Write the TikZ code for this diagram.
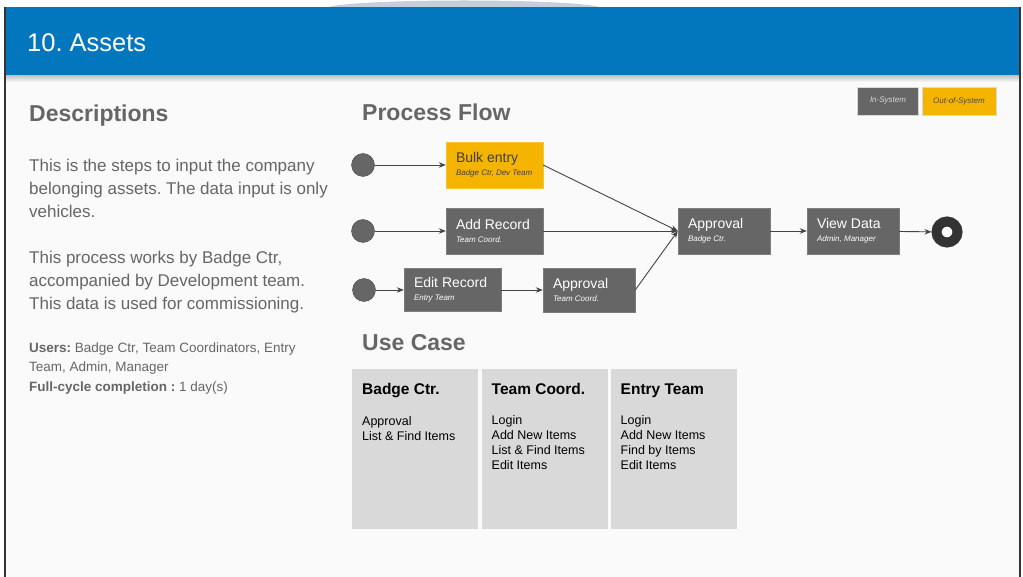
\documentclass[tikz,border=0pt]{standalone}
\usepackage{fontspec}
\setmainfont{Liberation Sans}
\usetikzlibrary{shapes}
\usetikzlibrary{arrows,arrows.meta}
\definecolor{hdrblue}{HTML}{0277BD}
\definecolor{stepgrey}{HTML}{666666}
\definecolor{outyellow}{HTML}{F4B400}
\definecolor{ucgrey}{HTML}{D9D9D9}
\definecolor{slidebg}{HTML}{FAFAFA}
\definecolor{linegrey}{HTML}{444444}
\definecolor{arcgrey}{HTML}{C3D0DC}
\newcommand{\who}[1]{\\[-2pt]{\fontsize{8}{9}\selectfont\itshape\spaceskip=0pt\xspaceskip=0pt #1}}
\tikzset{
	stepbox/.style = {rectangle, align=flush left, inner xsep=10pt, inner ysep=0pt,
		text width=77pt, minimum height=46pt, text=white, fill=stepgrey,
		draw=stepgrey!85!white, font=\fontsize{14}{15}\selectfont},% in-system step
	outbox/.style = {stepbox, fill=outyellow, draw=outyellow!80!white,
		text=black!75},% out-of-system step
	startpt/.style = {circle, inner sep=0pt, minimum size=23pt, fill=stepgrey,
		draw=stepgrey!70!black},% start
	endpt/.style = {circle, inner sep=0pt, minimum size=21pt, fill=white,
		draw=black!80, line width=10pt, outer sep=5pt},% end
	flow/.style = {-{Stealth[length=7pt, width=5.5pt]}, draw=linegrey, line width=0.9pt},
	heading/.style = {anchor=base west, inner sep=0pt, text=stepgrey,
		font=\fontsize{23}{26}\selectfont\bfseries},
	desc/.style = {anchor=base west, inner sep=0pt, align=flush left, text=stepgrey},
	ucbox/.style = {rectangle, anchor=north west, fill=ucgrey, inner sep=0pt,
		minimum width=126pt, minimum height=160pt},
	uctext/.style = {anchor=base west, inner sep=0pt, align=flush left,
		font=\fontsize{12.5}{14.7}\selectfont},
	legend/.style = {rectangle, inner sep=0pt, minimum height=28pt,
		font=\fontsize{8}{9}\selectfont\itshape, draw=white!85!black}
}
\begin{document}
\frenchspacing
\begin{tikzpicture}[x=1pt,y=-1pt]
\useasboundingbox (0,0) rectangle (1023,577);
\fill[white] (0,0) rectangle (1023,577);
% slide
\fill[slidebg] (5,7) rectangle (1020,577);
\fill[arcgrey] (326,8) .. controls (345,-2) and (583,-2) .. (602,8) -- cycle;
\shade[top color=black!25, bottom color=slidebg] (5,75) rectangle (1020,82);
\fill[hdrblue] (5,7) rectangle (1020,75);
\draw[black!80, line width=1.5pt] (5,7) -- (5,577) (1020,7) -- (1020,577);
\node[anchor=base west, inner sep=0pt, text=white,
	font=\fontsize{25.5}{28}\selectfont] (title) at (27,52) {10. Assets};

% descriptions (base = last line)
\node[heading] (deschead) at (29,121.5) {Descriptions};
\node[desc, font=\fontsize{17}{23}\selectfont] (desc1) at (29,218)
	{This is the steps to input the company\\belonging assets. The data input is only\\vehicles.};
\node[desc, font=\fontsize{17}{23}\selectfont] (desc2) at (29,310)
	{This process works by Badge Ctr,\\accompanied by Development team.\\This data is used for commissioning.};
\node[desc, font=\fontsize{13.5}{19.5}\selectfont] (users) at (29,391)
	{\textbf{Users:} Badge Ctr, Team Coordinators, Entry\\Team, Admin, Manager\\\textbf{Full-cycle completion :} 1 day(s)};

% legend
\node[legend, fill=stepgrey, text=white!85!black, minimum width=61pt] (insys) at (888,101) {In-System};
\node[legend, fill=outyellow, text=black!70, minimum width=74pt] (outsys) at (959,101) {Out-of-System};

% process flow
\node[heading] (flowhead) at (362,121) {Process Flow};
\node[startpt] (s1) at (363,165) {};
\node[startpt] (s2) at (363,231) {};
\node[startpt] (s3) at (364,290) {};
\node[outbox] (bulk) at (494.5,165) {Bulk entry\who{Badge Ctr, Dev Team}};
\node[stepbox] (addrec) at (494.5,231) {Add Record\who{Team Coord.}};
\node[stepbox, minimum height=43pt] (editrec) at (452.5,290) {Edit Record\who{Entry Team}};
\node[stepbox, text width=72pt, minimum height=44pt] (apprtc) at (589,290) {Approval\who{Team Coord.}};
\node[stepbox, text width=72pt] (apprbc) at (724,231) {Approval\who{Badge Ctr.}};
\node[stepbox, text width=72pt] (view) at (853,231) {View Data\who{Admin, Manager}};
\node[endpt] (fin) at (947,232) {};
\draw[flow] (s1) -- (bulk);
\draw[flow] (s2) -- (addrec);
\draw[flow] (s3) -- (editrec);
\draw[flow] (editrec) -- (apprtc);
\draw[flow] (bulk.east) -- (apprbc.west);
\draw[flow] (addrec) -- (apprbc);
\draw[flow] (apprtc.east) -- (apprbc.west);
\draw[flow] (apprbc) -- (view);
\draw[flow] (view) -- (fin);

% use case
\node[heading] (casehead) at (362,351) {Use Case};
\node[ucbox] (ucbadge) at (352,368.5) {};
\node[ucbox] (ucteam) at (481.5,368.5) {};
\node[ucbox] (ucentry) at (610.5,368.5) {};
\foreach \ucname/\uctitle in {ucbadge/Badge Ctr., ucteam/Team Coord., ucentry/Entry Team}
	\node[anchor=base west, inner sep=0pt, font=\fontsize{15.5}{17}\selectfont\bfseries]
		(\ucname head) at ([xshift=10pt, yshift=-26pt]\ucname.north west) {\uctitle};
\node[uctext] (ucbadgetx) at ([xshift=10pt, yshift=-71.5pt]ucbadge.north west)
	{Approval\\List \& Find Items};
\node[uctext] (ucteamtx) at ([xshift=10pt, yshift=-100.5pt]ucteam.north west)
	{Login\\Add New Items\\List \& Find Items\\Edit Items};
\node[uctext] (ucentrytx) at ([xshift=10pt, yshift=-100.5pt]ucentry.north west)
	{Login\\Add New Items\\Find by Items\\Edit Items};
\end{tikzpicture}
\end{document}
